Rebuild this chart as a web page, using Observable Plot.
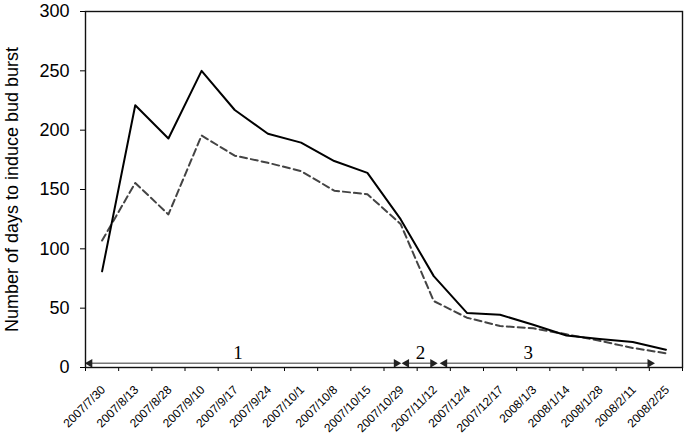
<!DOCTYPE html>
<html><head><meta charset="utf-8">
<script src="https://cdn.jsdelivr.net/npm/d3@7"></script>
<script src="https://cdn.jsdelivr.net/npm/@observablehq/plot@0.6"></script>
<style>body{margin:0;background:#fff;font-family:"Liberation Sans",Arial,sans-serif}</style>
</head><body><div id="chart"></div>
<script>
const dates = ["2007/7/30","2007/8/13","2007/8/28","2007/9/10","2007/9/17","2007/9/24","2007/10/1","2007/10/8","2007/10/15","2007/10/29","2007/11/12","2007/12/4","2007/12/17","2008/1/3","2008/1/14","2008/1/28","2008/2/11","2008/2/25"];
const solidSeries = [81, 221, 193, 250, 217, 197, 189.5, 174, 164, 125, 77, 46, 44.5, 36, 27, 24, 21.5, 15];
const dashedSeries = [107, 155.5, 129, 195.5, 178.5, 172.5, 165.5, 149, 146, 121, 56, 42, 35, 33, 28, 22.5, 16.5, 12];
const yTicks = [0, 50, 100, 150, 200, 250, 300];
const periodLabels = ["1", "2", "3"];
const periodStart = [-0.45, 9.1, 10.25];
const periodEnd = [8.95, 10.05, 16.6];
const periodLabelX = [4.1, 9.6, 12.85];
const arrowY = 3.5;
const periodLabelY = 12;

const idx = dates.map((d, i) => i);
const solidData = dates.map((d, i) => ({i, v: solidSeries[i]}));
const dashedData = dates.map((d, i) => ({i, v: dashedSeries[i]}));
const boundaries = d3.range(dates.length + 1).map(k => k - 0.5);
const periods = periodLabels.map((p, k) => ({p, x1: periodStart[k], x2: periodEnd[k], lx: periodLabelX[k]}));

const chart = Plot.plot({
  width: 685,
  height: 440,
  marginLeft: 85,
  marginRight: 3,
  marginTop: 11,
  marginBottom: 73,
  style: {fontFamily: "'Liberation Sans', Arial, sans-serif", background: "#fff", color: "#000"},
  x: {type: "linear", domain: [-0.5, dates.length - 0.5], axis: null},
  y: {domain: [0, 300], axis: null},
  marks: [
    Plot.axisY({ticks: yTicks, tickSize: 5, tickPadding: 11, fontSize: 18, label: null, tickFormat: d => d}),
    Plot.axisX({ticks: boundaries, tickSize: 4, tickFormat: () => "", label: null}),
    Plot.text(["Number of days to induce bud burst"], {frameAnchor: "left", textAnchor: "middle", dx: -73, rotate: -90, fontSize: 18, text: d => d}),
    Plot.text(idx, {x: d => d, frameAnchor: "bottom", text: d => dates[d], rotate: -45, textAnchor: "end", fontSize: 12, dy: 23, dx: 4}),
    Plot.link(periods, {x1: "x1", x2: "x2", y1: arrowY, y2: arrowY, stroke: "#777", strokeWidth: 1.5}),
    Plot.dot(periods, {x: d => d.x1 + 0.08, y: arrowY, symbol: "triangle", rotate: -90, r: 3.2, fill: "#222", stroke: null}),
    Plot.dot(periods, {x: d => d.x2 - 0.08, y: arrowY, symbol: "triangle", rotate: 90, r: 3.2, fill: "#222", stroke: null}),
    Plot.text(periods, {x: "lx", y: periodLabelY, text: "p", fontSize: 19, fontFamily: "'Liberation Serif', 'Times New Roman', serif"}),
    Plot.line(dashedData, {x: "i", y: "v", stroke: "#444", strokeWidth: 2, strokeDasharray: "7,4"}),
    Plot.line(solidData, {x: "i", y: "v", stroke: "#000", strokeWidth: 2}),
    Plot.frame({stroke: "#111", strokeWidth: 1.4})
  ]
});
document.getElementById("chart").append(chart);
</script>
</body></html>
